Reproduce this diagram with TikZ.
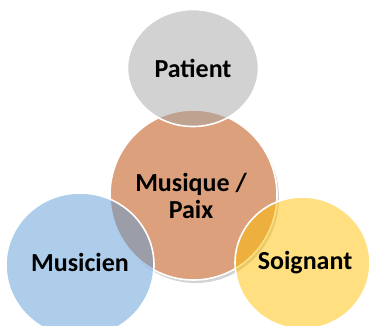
\documentclass[tikz,border=0pt]{standalone}
\usepackage{fontspec}
\setmainfont{Carlito}
\usetikzlibrary{shapes.geometric,shadows}
\definecolor{grisP}{RGB}{165,165,165}
\definecolor{bleuM}{RGB}{91,155,213}
\definecolor{jauneS}{RGB}{255,192,0}
\definecolor{brunC}{RGB}{220,160,125}
\begin{document}
\begin{tikzpicture}[x=1pt,y=-1pt,
	bulle/.style={ellipse,draw=white,line width=1.6pt,fill opacity=0.5,text opacity=1,
		font=\fontsize{26}{29}\selectfont\bfseries,align=center,inner sep=0pt}]
	\useasboundingbox (0,0) rectangle (371,325);

	% centre
	\node[bulle,fill=brunC,fill opacity=1,minimum width=167pt,minimum height=170pt,
		drop shadow={opacity=0.35,shadow xshift=2pt,shadow yshift=-3pt}] (musique) at (193.5,195) {};
	\node[font=\fontsize{26}{27}\selectfont\bfseries,align=center] (musiquetxt) at (191,196) {Musique /\\Paix};

	% satellites
	\node[bulle,fill=grisP,minimum width=131pt,minimum height=117pt] (patient) at (193,68) {Patient};
		\node[bulle,fill=bleuM,minimum width=148pt,minimum height=144pt] (musicien) at (80,265) {};
		\node[bulle,fill=jauneS,minimum width=135pt,minimum height=132pt] (soignant) at (302.5,263) {};
	\node[font=\fontsize{26}{29}\selectfont\bfseries] (musicientxt) at (80,262) {Musicien};
	\node[font=\fontsize{26}{29}\selectfont\bfseries] (soignanttxt) at (305,263) {Soignant};
\end{tikzpicture}
\end{document}
